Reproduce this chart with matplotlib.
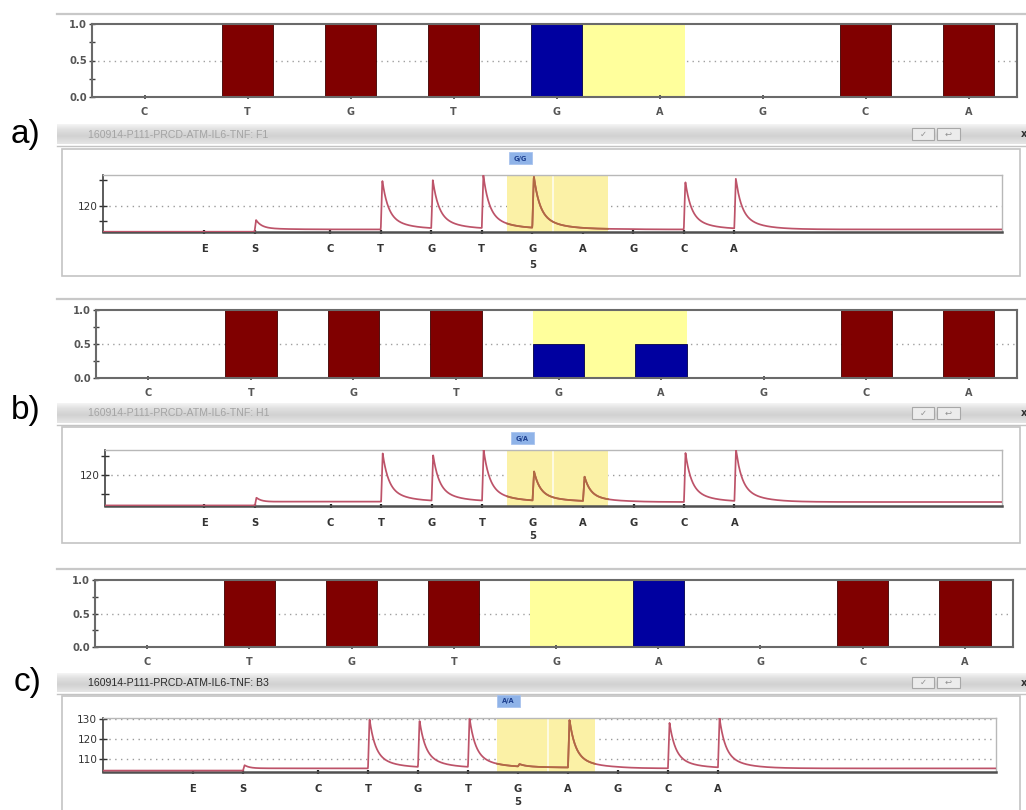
import numpy as np
import matplotlib
matplotlib.use("Agg")
import matplotlib.pyplot as plt
from matplotlib.patches import Rectangle

W, H = 1026, 810

# ---- allele-frequency bar charts -------------------------------------------
categories = ['C', 'T', 'G', 'T', 'G', 'A', 'G', 'C', 'A']
a_red = [0, 1, 1, 1, 0, 0, 0, 1, 1]
a_blue = [0, 0, 0, 0, 1, 0, 0, 0, 0]
b_red = [0, 1, 1, 1, 0, 0, 0, 1, 1]
b_blue = [0, 0, 0, 0, 0.5, 0.5, 0, 0, 0]
c_red = [0, 1, 1, 1, 0, 0, 0, 1, 1]
c_blue = [0, 0, 0, 0, 0, 1, 0, 0, 0]
variable_span = (4, 5)          # G/A variable site, first and last category

# ---- pyrograms ---------------------------------------------------------------
dispensations = ['E', 'S', 'C', 'T', 'G', 'T', 'G', 'A', 'G', 'C', 'A']
disp_time = [2.0, 3.0, 4.5, 5.5, 6.5, 7.5, 8.5, 9.5, 10.5, 11.5, 12.5]
variable_disp = 6               # dispensation carrying the position label
position_label = '5'
nan = np.nan

a_start = 109.9
a_level = [109.9, 110.8, 110.8, 110.9, 110.9, 111.0, 110.9, 110.9, 110.8, 110.8, 110.8]
a_peak = [nan, 114.4, nan, 130.0, 129.7, 131.6, 131.2, nan, nan, 129.5, 130.2]

b_start = 104.0
b_level = [104.0, 106.0, 106.0, 106.0, 106.0, 106.0, 106.0, 105.9, 105.8, 105.8, 105.8]
b_peak = [nan, 107.9, nan, 131.6, 130.0, 132.9, 121.3, 118.8, nan, 131.6, 132.9]

c_start = 104.2
c_level = [104.2, 105.3, 105.3, 105.5, 105.5, 105.7, 105.7, 105.5, 105.3, 105.3, 105.3]
c_peak = [nan, 106.8, nan, 130.0, 128.8, 130.0, 106.9, 129.5, nan, 128.0, 130.0]

genotypes = ['G/G', 'G/A', 'A/A']
wells = ['160914-P111-PRCD-ATM-IL6-TNF: F1',
         '160914-P111-PRCD-ATM-IL6-TNF: H1',
         '160914-P111-PRCD-ATM-IL6-TNF: B3']
panel_tags = ['a)', 'b)', 'c)']

RED = '#800000'
BLUE = '#0000a0'
YELLOW = '#ffff9c'
HL_YELLOW = '#fbf1a6'
TRACE = '#bd5369'
TRACE_HL = '#b06a42'

fig = plt.figure(figsize=(W / 100, H / 100), dpi=100)
bg = fig.add_axes([0, 0, 1, 1])
bg.axis('off')


def px_axes(x0, y0, x1, y1):
    return fig.add_axes([x0 / W, 1 - y1 / H, (x1 - x0) / W, (y1 - y0) / H])


def header(y0, y1, text, txtcol):
    n = 40
    f = np.linspace(0, 1, n)
    stops = np.array([[0.0, 0.96], [0.25, 0.88], [0.6, 0.82], [1.0, 0.9]])
    g = np.interp(f, stops[:, 0], stops[:, 1])
    img = np.repeat(g[:, None, None], 3, axis=2)
    bg.imshow(img, extent=(57, 1026, y1, y0), origin='upper', aspect='auto',
              interpolation='bilinear', zorder=1)
    bg.plot([57, 1026], [y1 + 1.5, y1 + 1.5], color='#c4c4c4', lw=1, zorder=1)
    bg.text(88, (y0 + y1) / 2 + 0.5, text, fontsize=7.6, color=txtcol,
            family='Liberation Sans', va='center', ha='left', zorder=2)
    for bx0, bx1, sym in [(912, 934, '\u2713'), (937, 960, '\u21a9')]:
        bg.add_patch(Rectangle((bx0, y0 + 4), bx1 - bx0, y1 - y0 - 8,
                               facecolor='#ececec', edgecolor='#a8a8a8',
                               lw=0.8, zorder=2))
        bg.text((bx0 + bx1) / 2, (y0 + y1) / 2, sym, fontsize=6,
                color='#909090', ha='center', va='center', zorder=3)
    bg.text(1021, (y0 + y1) / 2, 'x', fontsize=7, color='#333333',
            fontweight='bold', ha='left', va='center', zorder=3)


def bar_chart(box, red, blue):
    ax = px_axes(*box)
    x = np.arange(len(categories))
    lo, hi = variable_span
    ax.bar((lo + hi) / 2, 1, width=hi - lo + 0.5, color=YELLOW, zorder=1)
    ax.bar(x, red, width=0.5, color=RED, edgecolor='#3c0000', lw=0.6, zorder=2)
    ax.bar(x, blue, width=0.5, color=BLUE, edgecolor='#00004a', lw=0.6, zorder=2)
    ax.axhline(0.5, color='#a0a0a0', lw=1, ls=(0, (1, 3)), zorder=0.5)
    ax.set_xlim(-0.51, 8.47)
    ax.set_ylim(0, 1)
    ax.set_yticks([0, 0.5, 1.0])
    ax.set_yticklabels(['0.0', '0.5', '1.0'])
    ax.set_yticks([0.25, 0.75], minor=True)
    ax.set_xticks(x)
    ax.set_xticklabels(categories)
    ax.tick_params(axis='y', which='both', direction='inout', length=5,
                   width=1, color='#404040', labelsize=7.2, labelcolor='#555555',
                   pad=1)
    ax.tick_params(axis='x', direction='inout', length=3, width=1.2,
                   color='#404040', labelsize=7, labelcolor='#555555', pad=6)
    for lab in ax.get_xticklabels() + ax.get_yticklabels():
        lab.set_fontweight('bold')
    for s in ax.spines.values():
        s.set_color('#6a6a6a')
        s.set_linewidth(1.5)
    return ax


def trace(t, start, levels, peaks):
    y = np.full_like(t, start)
    prev = start
    for tm, lv, pk in zip(disp_time, levels, peaks):
        d = t - tm
        on = d >= 0
        dd = d[on]
        y[on] += (lv - prev) * (1 - np.exp(-dd / 0.3))
        if not np.isnan(pk):
            amp = pk - prev
            k = np.where(dd < 0.03, dd / 0.03,
                         0.7 * np.exp(-(dd - 0.03) / 0.11)
                         + 0.3 * np.exp(-(dd - 0.03) / 0.38))
            y[on] += amp * k
        prev = lv
    return y


def pyrogram(box, xlim, ylim, yticks, ylabels, grid_vals, start, levels,
             peaks, hl, hl_split, label_y):
    ax = px_axes(*box)
    t = np.linspace(xlim[0], xlim[1], 4000)
    y = trace(t, start, levels, peaks)
    for g in grid_vals:
        ax.axhline(g, color='#9a9a9a', lw=1, ls=(0, (1, 3.2)), zorder=1)
    ax.axvspan(hl[0], hl[1], color=HL_YELLOW, lw=0, zorder=2)
    ax.axvline(hl_split, color='white', lw=1.2, alpha=0.8, zorder=2.1)
    ax.plot(t, y, color=TRACE, lw=1.25, zorder=3)
    m = (t >= hl[0]) & (t <= hl[1])
    ax.plot(t[m], y[m], color=TRACE_HL, lw=1.25, zorder=3.1)
    ax.set_xlim(*xlim)
    ax.set_ylim(*ylim)
    ax.set_yticks(yticks)
    ax.set_yticklabels(ylabels)
    ax.set_xticks(disp_time)
    ax.set_xticklabels(dispensations)
    ax.tick_params(axis='y', direction='inout', length=6, width=1,
                   color='#303030', labelsize=7.6, labelcolor='#333333', pad=1)
    ax.tick_params(axis='x', direction='inout', length=3, width=1.6,
                   color='#222222', labelsize=7.2, labelcolor='#333333', pad=7)
    for lab in ax.get_xticklabels():
        lab.set_fontweight('bold')
    ax.spines['left'].set_color('#404040')
    ax.spines['left'].set_linewidth(1.2)
    ax.spines['bottom'].set_color('#505050')
    ax.spines['bottom'].set_linewidth(1.8)
    for s in ('top', 'right'):
        ax.spines[s].set_color('#b8b8b8')
        ax.spines[s].set_linewidth(1.0)
    # position number under the variable dispensation
    xp = box[0] + (disp_time[variable_disp] - xlim[0]) / (xlim[1] - xlim[0]) * (box[2] - box[0])
    bg.text(xp, label_y, position_label, fontsize=7.2, fontweight='bold',
            color='#333333', ha='center', va='center', zorder=5)
    return ax


panels = [
    dict(top=14, bar=(92, 24, 1017, 97), red=a_red, blue=a_blue,
         head=(124, 144), box=(62, 149, 1020, 276),
         pyro=(103, 175, 1002, 232), xlim=(0.0, 17.8), ylim=(109.8, 132.0),
         yticks=[114, 120, 130], ylabels=['', '120', ''], grid=[120],
         start=a_start, level=a_level, peak=a_peak, hl=(8.0, 10.0), split=8.9,
         badge=(509, 152, 532, 164), tag=(26, 134), num_y=265, txtcol='#a4a4a4'),
    dict(top=299, bar=(96, 310, 1017, 378), red=b_red, blue=b_blue,
         head=(403, 423), box=(62, 427, 1020, 543),
         pyro=(105, 450, 1002, 506), xlim=(0.03, 17.8), ylim=(103.7, 133.2),
         yticks=[110, 120, 130], ylabels=['', '120', ''], grid=[120],
         start=b_start, level=b_level, peak=b_peak, hl=(8.0, 10.0), split=8.9,
         badge=(511, 432, 534, 444), tag=(26, 411), num_y=536, txtcol='#a4a4a4'),
    dict(top=569, bar=(95, 580, 1013, 647), red=c_red, blue=c_blue,
         head=(673, 692), box=(62, 696, 1020, 815),
         pyro=(103, 718, 996, 772), xlim=(0.2, 18.06), ylim=(103.5, 130.4),
         yticks=[110, 120, 130], ylabels=['110', '120', '130'],
         grid=[110, 120, 130],
         start=c_start, level=c_level, peak=c_peak, hl=(8.08, 10.04), split=9.1,
         badge=(497, 695, 520, 707), tag=(28, 683), num_y=802, txtcol='#2a2a2a'),
]

for i, p in enumerate(panels):
    bg.plot([57, 1026], [p['top'], p['top']], color='#c8c8c8', lw=1.6, zorder=1)
    header(p['head'][0], p['head'][1], wells[i], p['txtcol'])
    bx = p['box']
    bg.add_patch(Rectangle((bx[0], bx[1]), bx[2] - bx[0], bx[3] - bx[1],
                           facecolor='white', edgecolor='#c4c4c4', lw=1.2,
                           zorder=1))
    bd = p['badge']
    bg.add_patch(Rectangle((bd[0], bd[1]), bd[2] - bd[0], bd[3] - bd[1],
                           facecolor='#8fb3e8', edgecolor='#a9c3ee', lw=0.6,
                           zorder=3))
    bg.text((bd[0] + bd[2]) / 2, (bd[1] + bd[3]) / 2 + 0.5, genotypes[i],
            fontsize=4.8, fontweight='bold', color='#1d3f8f',
            ha='center', va='center', zorder=4)
    bg.text(p['tag'][0], p['tag'][1], panel_tags[i], fontsize=24,
            family='Liberation Sans', color='black', ha='center', va='center',
            zorder=4)
    bar_chart(p['bar'], p['red'], p['blue'])
    pyrogram(p['pyro'], p['xlim'], p['ylim'], p['yticks'], p['ylabels'],
             p['grid'], p['start'], p['level'], p['peak'], p['hl'], p['split'],
             p['num_y'])

bg.set_xlim(0, W)
bg.set_ylim(H, 0)

fig.savefig('out.png', dpi=100)
